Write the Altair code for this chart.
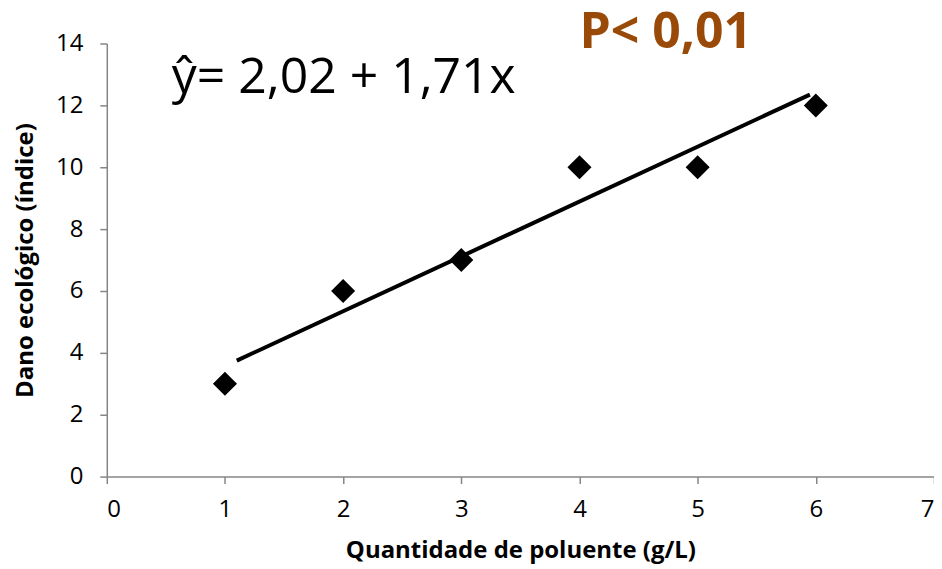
import altair as alt
import pandas as pd

# Observed points
x_vals = [1, 2, 3, 4, 5, 6]
y_vals = [3, 6, 7, 10, 10, 12]

# Trend line endpoints
line_x = [1.1, 5.95]
line_y = [3.75, 12.35]

# Annotations
eq_text = ["ŷ= 2,02 + 1,71x"]
eq_x = [0.55]
eq_y = [12.39]
p_text = ["P< 0,01"]
p_x = [4.0]
p_y = [13.84]

FONT = "Open Sans"

pts = pd.DataFrame({"x": x_vals, "y": y_vals})
ln = pd.DataFrame({"x": line_x, "y": line_y})
eqd = pd.DataFrame({"t": eq_text, "x": eq_x, "y": eq_y})
pd_ = pd.DataFrame({"t": p_text, "x": p_x, "y": p_y})

xscale = alt.Scale(domain=[0, 7], nice=False, zero=True)
yscale = alt.Scale(domain=[0, 14], nice=False)

xaxis = alt.Axis(title="Quantidade de poluente (g/L)", values=list(range(0, 8)), format="d", grid=False,
                 titleY=74, titleBaseline="middle", titleAnchor="middle",
                 labelPadding=14)
yaxis = alt.Axis(title="Dano ecológico (índice)", values=list(range(0, 15, 2)), format="d", grid=False,
                 titleX=-81, titleY=217, titleBaseline="middle", titleAlign="center", titleAngle=270,
                 labelPadding=17)

base_line = alt.Chart(ln).mark_line(color="black", strokeWidth=4).encode(
    x=alt.X("x:Q", scale=xscale, axis=xaxis),
    y=alt.Y("y:Q", scale=yscale, axis=yaxis),
)

points = alt.Chart(pts).mark_point(shape="diamond", filled=True, color="black", size=580, opacity=1).encode(
    x=alt.X("x:Q", scale=xscale),
    y=alt.Y("y:Q", scale=yscale),
)

eq = alt.Chart(eqd).mark_text(
    align="left", baseline="alphabetic", font=FONT, fontSize=50, color="black"
).encode(x=alt.X("x:Q", scale=xscale), y=alt.Y("y:Q", scale=yscale), text="t:N")

pv = alt.Chart(pd_).mark_text(
    align="left", baseline="alphabetic", font=FONT, fontSize=50, fontWeight="bold", color="#9A4A08"
).encode(x=alt.X("x:Q", scale=xscale), y=alt.Y("y:Q", scale=yscale), text="t:N")

chart = alt.layer(base_line, points, eq, pv).properties(
    width=829, height=434,
    padding={"left": 99, "top": 35, "right": 0, "bottom": 92},
    autosize="none",
).configure_view(stroke=None).configure_axis(
    domainColor="#868686", tickColor="#868686", domainWidth=1.5, tickWidth=1.5, tickSize=7,
    labelFont=FONT, labelFontSize=24, labelColor="black",
    titleFont=FONT, titleFontSize=24, titleFontWeight="bold", titleColor="black",
)

chart.save("out.html", embed_options={"renderer": "svg", "actions": False})
